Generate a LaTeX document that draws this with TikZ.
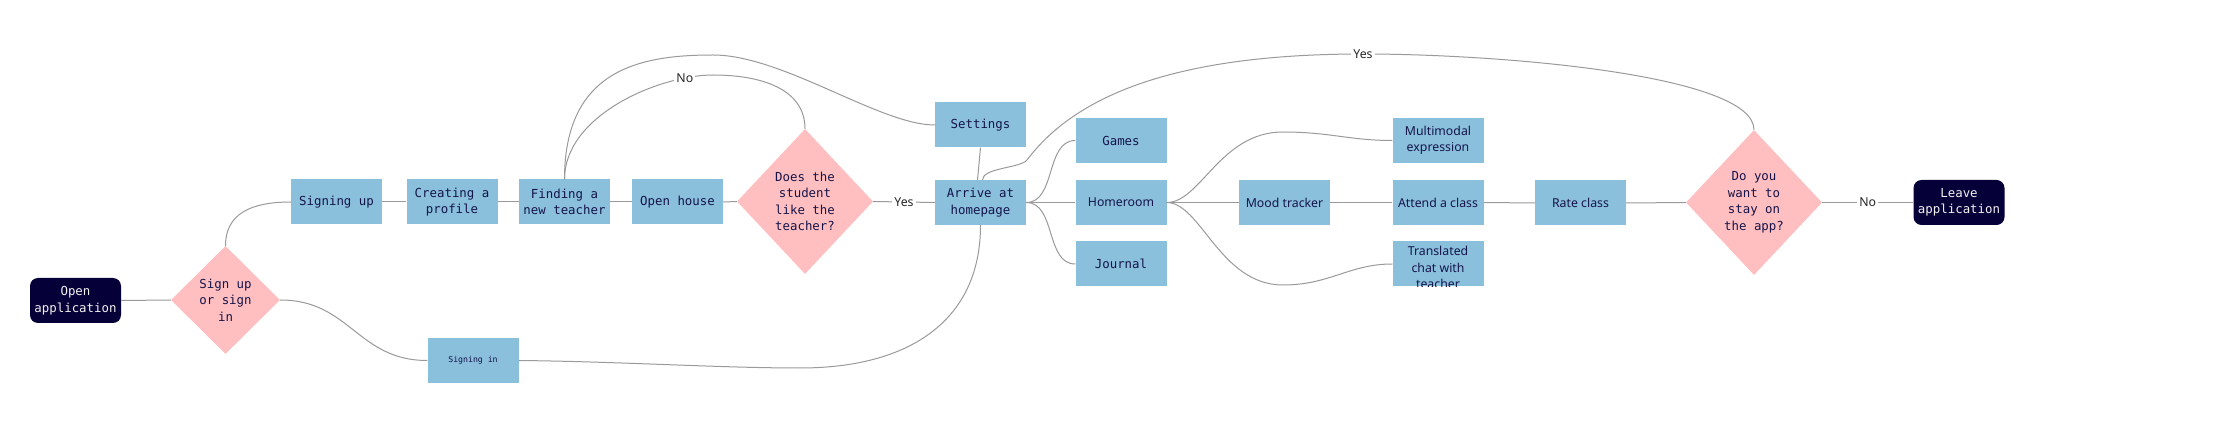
\documentclass[tikz,border=0pt]{standalone}
\usepackage{fontspec}
\usetikzlibrary{shapes.geometric,calc}
\newfontfamily\monof{DejaVu Sans Mono}
\newfontfamily\sansf{Noto Sans}
\definecolor{boxblue}{HTML}{8AC0DC}
\definecolor{dpink}{HTML}{FFBFC0}
\definecolor{navy}{HTML}{050038}
\definecolor{ink}{HTML}{14144A}
\definecolor{wire}{HTML}{9A9A9A}
\begin{document}
\begin{tikzpicture}[x=1pt,y=-1pt,
  monotxt/.style={font=\monof\fontsize{12.4}{16.5}\selectfont},
  sanstxt/.style={font=\sansf\fontsize{12.3}{16.5}\selectfont},
  bbox/.style={rectangle, fill=boxblue, minimum width=91pt, minimum height=45pt, inner sep=0pt, align=center, text=ink},
  dbox/.style={diamond, fill=dpink, inner sep=0pt, align=center, text=ink, monotxt},
  term/.style={rectangle, rounded corners=8pt, fill=navy, text=white!95!black, minimum width=91pt, minimum height=45pt, inner sep=0pt, align=center, monotxt},
  wireline/.style={draw=wire, line width=1pt},
  lbl/.style={fill=white, inner sep=2pt, text=black!85, sanstxt}
]
\useasboundingbox[fill=white] (0,0) rectangle (2228,430);

% nodes
\node[term] (oa) at (75.5,300.5) {Open\\application};
\node[dbox, minimum width=109pt, minimum height=108pt] (d1) at (225.5,300) {Sign up\\or sign\\in};
\node[bbox, monotxt] (su) at (336.5,202) {Signing up};
\node[bbox, monotxt] (cp) at (452,202) {Creating a\\profile};
\node[bbox, monotxt] (ft) at (564.5,202) {Finding a\\new teacher};
\node[bbox, monotxt] (oh) at (677.5,202) {Open house};
\node[dbox, minimum width=136pt, minimum height=145pt] (d2) at (805,201.5) {Does the\\student\\like the\\teacher?};
\node[bbox, monotxt] (st) at (980.5,125) {Settings};
\node[bbox, monotxt] (ar) at (980.5,202.5) {Arrive at\\homepage};
\node[bbox, monotxt] (ga) at (1121,140.5) {Games};
\node[bbox, sanstxt] (hr) at (1121,202.5) {Homeroom};
\node[bbox, monotxt] (jo) at (1121,264) {Journal};
\node[bbox, sanstxt] (mt) at (1284.5,202.5) {Mood tracker};
\node[bbox, sanstxt] (mm) at (1438,140.5) {Multimodal\\expression};
\node[bbox, sanstxt] (ac) at (1438,202.5) {Attend a class};
\node[bbox] (tc) at (1438,264) {};
\begin{scope}
  \clip (tc.south west) rectangle (tc.north east);
  \node[sanstxt, text=ink, align=center, inner sep=0pt] (tct) at (1438,267.5) {Translated\\chat with\\teacher};
\end{scope}
\node[bbox, sanstxt] (rc) at (1580.5,203) {Rate class};
\node[dbox, minimum width=136pt, minimum height=145pt] (dy) at (1754,202.5) {Do you\\want to\\stay on\\the app?};
\node[term] (la) at (1959,202.5) {Leave\\application};
\node[bbox, font=\monof\fontsize{8.2}{10}\selectfont] (si) at (473,360.5) {Signing in};

% via points
\coordinate (topN) at (713,75);
\coordinate (stP) at (713,55);
\coordinate (yesP) at (1363,54);
\coordinate (yesQ) at (1027,160);
\coordinate (siP) at (800,368);
\coordinate (mmP) at (1283,132);
\coordinate (tcP) at (1283,285);

% connectors
\draw[wireline] (oa.east) -- (d1.west);
\draw[wireline] (d1.north) .. controls +(0,-32) and +(-40,0) .. (su.west);
\draw[wireline] (d1.east) .. controls +(70,0) and +(-70,0) .. (si.west);
\draw[wireline] (su.east) -- (cp.west);
\draw[wireline] (cp.east) -- (ft.west);
\draw[wireline] (ft.east) -- (oh.west);
\draw[wireline] (oh.east) -- (d2.west);
\draw[wireline] (ft.north) .. controls +(0,-110) and +(-73,0) .. (stP)
                 .. controls +(70,0) and +(-55,0) .. (st.west);
\draw[wireline] (ft.north) .. controls +(0,-64.5) and +(-53,0) .. node[lbl, pos=0.84] (nolbl) {No} (topN)
                 .. controls +(47,0) and +(0,-40.5) .. (d2.north);
\draw[wireline] (d2.east) -- node[lbl] (yes1) {Yes} (ar.west);
\draw[wireline] (st.south) -- ($(ar.north)+(-3,0)$);
\draw[wireline] (dy.north) .. controls +(0,-55) and +(137,0) .. (yesP) node[lbl] (yes2) {Yes}
                 .. controls +(-150,0) and +(60,-80) .. (yesQ)
                 .. controls +(-6,8) and +(0,-12) .. ($(ar.north)+(2,0)$);
\draw[wireline] (si.east) .. controls +(100,1) and +(-80,0) .. (siP)
                 .. controls +(110,0) and +(0,95) .. (ar.south);
\draw[wireline] (ar.east) .. controls +(30,0) and +(-30,0) .. (ga.west);
\draw[wireline] (ar.east) -- (hr.west);
\draw[wireline] (ar.east) .. controls +(30,0) and +(-30,0) .. (jo.west);
\draw[wireline] (hr.east) .. controls +(34,0) and +(-63,0) .. (mmP)
                 .. controls +(47,0) and +(-43,0) .. (mm.west);
\draw[wireline] (hr.east) -- (mt.west);
\draw[wireline] (hr.east) .. controls +(34,0) and +(-63,0) .. (tcP)
                 .. controls +(47,0) and +(-43,0) .. (tc.west);
\draw[wireline] (mt.east) -- (ac.west);
\draw[wireline] (ac.east) -- (rc.west);
\draw[wireline] (rc.east) -- (dy.west);
\draw[wireline] (dy.east) -- node[lbl] (no2) {No} (la.west);
\end{tikzpicture}
\end{document}
